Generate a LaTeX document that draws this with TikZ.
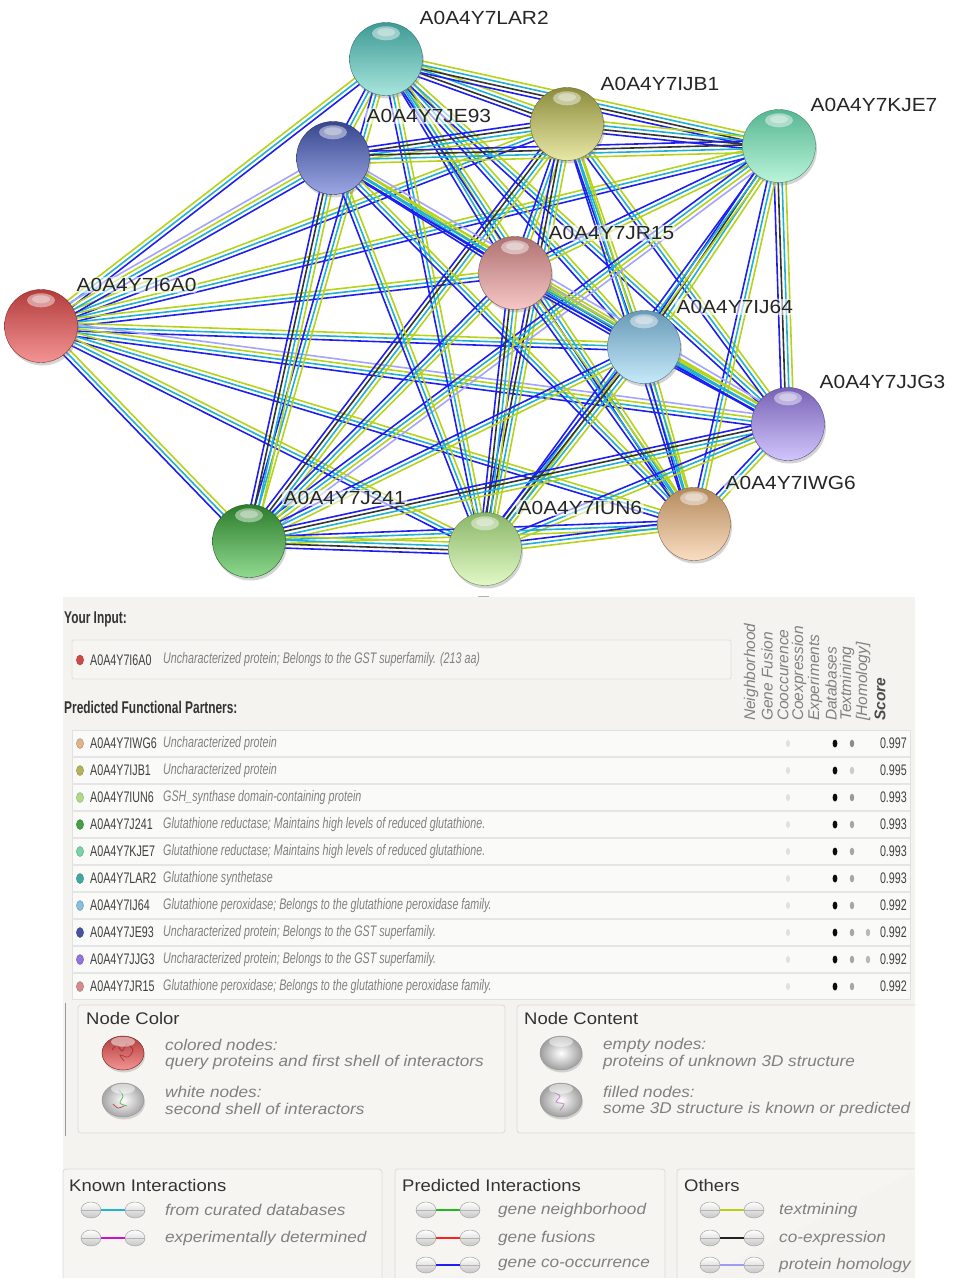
\documentclass[tikz,border=0pt]{standalone}
\usepackage{fontspec}
\setmainfont{Liberation Sans}
\newfontfamily\widef[FakeStretch=1.1]{Liberation Sans}
\newfontfamily\condf[FakeStretch=0.7]{Liberation Sans}
\usetikzlibrary{calc,shadows,backgrounds,shapes.geometric}

\definecolor{cB}{HTML}{1E1EF0}
\definecolor{cK}{HTML}{333333}
\definecolor{cC}{HTML}{1FB0D2}
\definecolor{cT}{HTML}{B7D21A}
\definecolor{cH}{HTML}{A4A4FA}
\definecolor{panel}{HTML}{F4F3EF}
\definecolor{panel2}{HTML}{F6F5F2}
% ball colours (top / bottom)
\definecolor{tI6A0}{HTML}{B23C3C}\definecolor{bI6A0}{HTML}{F49494}
\definecolor{tLAR2}{HTML}{3E9A94}\definecolor{bLAR2}{HTML}{A8E6DE}
\definecolor{tIJB1}{HTML}{8C8C3E}\definecolor{bIJB1}{HTML}{E8E8A6}
\definecolor{tKJE7}{HTML}{58B692}\definecolor{bKJE7}{HTML}{BAF4DA}
\definecolor{tJE93}{HTML}{38468E}\definecolor{bJE93}{HTML}{9CA8E4}
\definecolor{tJR15}{HTML}{AE7272}\definecolor{bJR15}{HTML}{F8C6C6}
\definecolor{tIJ64}{HTML}{6899B6}\definecolor{bIJ64}{HTML}{C6EAFA}
\definecolor{tJJG3}{HTML}{7862B6}\definecolor{bJJG3}{HTML}{D2C6FC}
\definecolor{tIWG6}{HTML}{B48A5E}\definecolor{bIWG6}{HTML}{FADEC2}
\definecolor{tJ241}{HTML}{2C7C2C}\definecolor{bJ241}{HTML}{90DA90}
\definecolor{tIUN6}{HTML}{8AB668}\definecolor{bIUN6}{HTML}{E2F9C6}
% table dot colours
\definecolor{dIWG6}{HTML}{E0B488}\definecolor{dIJB1}{HTML}{B4B458}
\definecolor{dIUN6}{HTML}{AEDC86}\definecolor{dJ241}{HTML}{44A044}
\definecolor{dKJE7}{HTML}{78D4A8}\definecolor{dLAR2}{HTML}{40A8A0}
\definecolor{dIJ64}{HTML}{86C0DC}\definecolor{dJE93}{HTML}{4452A2}
\definecolor{dJJG3}{HTML}{9274DA}\definecolor{dJR15}{HTML}{D48C8C}
\definecolor{dI6A0}{HTML}{D04848}
% legend line colours
\definecolor{lDb}{HTML}{1FB3D6}\definecolor{lEx}{HTML}{CC10CC}
\definecolor{lNb}{HTML}{22B822}\definecolor{lFu}{HTML}{FF2020}
\definecolor{lCo}{HTML}{2020EE}\definecolor{lTm}{HTML}{B5D015}
\definecolor{lCe}{HTML}{222222}\definecolor{lHo}{HTML}{9C9CF4}

\newcommand\bund[3]{%
  \def\nn{0}\foreach \c in {#3}{\xdef\nn{\the\numexpr\nn+1\relax}}%
  \foreach \c [count=\i] in {#3}{%
    \pgfmathsetmacro\off{(\i-(\nn+1)/2)*3.9}%
    \draw[\c] ($(#1)!\off pt!90:(#2)$) -- ($(#2)!\off pt!-90:(#1)$);
  }}
\newcommand\netball[5]{%
  \node[ball, top color=#4, bottom color=#5, draw=#4!75!black] (#1) at (#2,#3) {};
  \fill[white, opacity=.45] ([yshift=-11pt]#1.north) ellipse (14pt and 7pt);
  \fill[white, opacity=.35] ([yshift=-10pt]#1.north) ellipse (9pt and 4pt);
}
\newcommand\licon[4]{%
  \node[iball] (#1a) at (#2+10,#3) {};
  \node[iball] (#1b) at (#2+54,#3) {};
  \draw[black!30, line width=.5pt] (#1a.west) -- (#1a.east) (#1b.west) -- (#1b.east);
  \draw[#4, line width=2.6pt] (#1a.east) -- (#1b.west);
}

\begin{document}
\begin{tikzpicture}[x=1pt,y=-1pt,
  ball/.style={circle, minimum size=73pt, inner sep=0pt, line width=.4pt,
    drop shadow={opacity=.35, shadow xshift=1.5pt, shadow yshift=-3pt}},
  lbl/.style={anchor=west, inner sep=1.5pt, rounded corners=4pt, fill=white, fill opacity=.6, text opacity=1,
    font=\widef\fontsize{19}{19}\selectfont, text=black!85},
  tname/.style={anchor=west, inner sep=0pt, font=\condf\fontsize{15.3}{15.3}\selectfont, text=black!75},
  tdesc/.style={anchor=west, inner sep=0pt, font=\condf\itshape\fontsize{15.3}{15.3}\selectfont, text=black!50},
  thead/.style={anchor=west, rotate=90, inner sep=0pt, font=\itshape\fontsize{15.5}{15.5}\selectfont, text=black!50},
  ttitle/.style={anchor=west, inner sep=0pt, font=\condf\bfseries\fontsize{17}{17}\selectfont, text=black!80},
  ltitle/.style={anchor=west, inner sep=0pt, font=\widef\fontsize{16.8}{16.8}\selectfont, text=black!80},
  ltext/.style={anchor=west, inner sep=0pt, font=\widef\itshape\fontsize{15.6}{15.6}\selectfont, text=black!50},
  lbox/.style={draw=black!14, fill=panel2, rounded corners=3pt, line width=.8pt},
  lball/.style={ellipse, minimum width=42pt, minimum height=34pt, inner sep=0pt, line width=.5pt,
    drop shadow={opacity=.3, shadow xshift=1pt, shadow yshift=-2.5pt}},
  iball/.style={ellipse, minimum width=20pt, minimum height=16pt, inner sep=0pt, draw=black!35,
    line width=.5pt, top color=white, bottom color=black!22},
  edge/.style={line width=1.6pt},
]
\useasboundingbox (0,0) rectangle (971,1282);

% ---------------- network nodes
\netball{I6A0}{41}{326}{tI6A0}{bI6A0}
\netball{LAR2}{386}{59}{tLAR2}{bLAR2}
\netball{IJB1}{567}{124}{tIJB1}{bIJB1}
\netball{KJE7}{779}{146}{tKJE7}{bKJE7}
\netball{JE93}{333}{158}{tJE93}{bJE93}
\netball{JR15}{515}{273}{tJR15}{bJR15}
\netball{IJ64}{644}{347}{tIJ64}{bIJ64}
\netball{JJG3}{788}{424}{tJJG3}{bJJG3}
\netball{IWG6}{694}{524}{tIWG6}{bIWG6}
\netball{J241}{249}{541}{tJ241}{bJ241}
\netball{IUN6}{485}{549}{tIUN6}{bIUN6}

\node[lbl] (LAR2t) at (418,18) {A0A4Y7LAR2};
\node[lbl] (IJB1t) at (599,84) {A0A4Y7IJB1};
\node[lbl] (KJE7t) at (809,105) {A0A4Y7KJE7};
\node[lbl] (JE93t) at (365,116) {A0A4Y7JE93};
\node[lbl] (JR15t) at (547,233) {A0A4Y7JR15};
\node[lbl] (I6A0t) at (75,285) {A0A4Y7I6A0};
\node[lbl] (IJ64t) at (675,307) {A0A4Y7IJ64};
\node[lbl] (JJG3t) at (818,382) {A0A4Y7JJG3};
\node[lbl] (IWG6t) at (724,483) {A0A4Y7IWG6};
\node[lbl] (J241t) at (282,498) {A0A4Y7J241};
\node[lbl] (IUN6t) at (516,508) {A0A4Y7IUN6};

% ---------------- edges and panel background
\begin{scope}[on background layer]
\fill[panel] (63,597) rectangle (915,1278);
\begin{scope}[edge]
\bund{I6A0}{LAR2}{cB,cC,cT}
\bund{I6A0}{IJB1}{cB,cC,cT}
\bund{I6A0}{KJE7}{cB,cC,cT}
\bund{I6A0}{JE93}{cB,cC,cT,cH}
\bund{I6A0}{JR15}{cB,cC,cT}
\bund{I6A0}{IJ64}{cB,cC,cT}
\bund{I6A0}{JJG3}{cB,cC,cT,cH}
\bund{I6A0}{IWG6}{cB,cC,cT}
\bund{I6A0}{J241}{cB,cC,cT}
\bund{I6A0}{IUN6}{cB,cC,cT}
\bund{LAR2}{IJB1}{cB,cK,cC,cT}
\bund{LAR2}{KJE7}{cB,cK,cC,cT}
\bund{LAR2}{JE93}{cB,cC,cT}
\bund{LAR2}{JR15}{cB,cC,cT}
\bund{LAR2}{IJ64}{cB,cC,cT}
\bund{LAR2}{JJG3}{cB,cC,cT}
\bund{LAR2}{IWG6}{cB,cC,cT}
\bund{LAR2}{J241}{cB,cC,cT}
\bund{LAR2}{IUN6}{cB,cC,cT}
\bund{IJB1}{KJE7}{cB,cK,cC,cT}
\bund{IJB1}{JE93}{cB,cK,cC,cT}
\bund{IJB1}{JR15}{cB,cC,cT}
\bund{IJB1}{IJ64}{cB,cC,cT}
\bund{IJB1}{JJG3}{cB,cC,cT}
\bund{IJB1}{IWG6}{cB,cC,cT}
\bund{IJB1}{J241}{cB,cK,cC,cT}
\bund{IJB1}{IUN6}{cB,cK,cC,cT}
\bund{KJE7}{JE93}{cB,cK,cC,cT}
\bund{KJE7}{JR15}{cB,cC,cT}
\bund{KJE7}{IJ64}{cB,cK,cC,cT}
\bund{KJE7}{JJG3}{cB,cK,cC,cT}
\bund{KJE7}{IWG6}{cB,cC,cT}
\bund{KJE7}{J241}{cB,cC,cT,cH}
\bund{KJE7}{IUN6}{cB,cC,cT}
\bund{JE93}{JR15}{cB,cC,cT}
\bund{JE93}{IJ64}{cB,cC,cT}
\bund{JE93}{JJG3}{cB,cC,cT,cH}
\bund{JE93}{IWG6}{cB,cC,cT}
\bund{JE93}{J241}{cB,cK,cC,cT}
\bund{JE93}{IUN6}{cB,cC,cT}
\bund{JR15}{IJ64}{cB,cC,cT,cH}
\bund{JR15}{JJG3}{cB,cC,cT}
\bund{JR15}{IWG6}{cB,cC,cT}
\bund{JR15}{J241}{cB,cC,cT}
\bund{JR15}{IUN6}{cB,cK,cC,cT}
\bund{IJ64}{JJG3}{cB,cC,cT}
\bund{IJ64}{IWG6}{cB,cC,cT}
\bund{IJ64}{J241}{cB,cC,cT}
\bund{IJ64}{IUN6}{cB,cK,cC,cT}
\bund{JJG3}{IWG6}{cB,cC,cT}
\bund{JJG3}{J241}{cB,cK,cC,cT}
\bund{JJG3}{IUN6}{cB,cC,cT}
\bund{IWG6}{J241}{cB,cC,cT}
\bund{IWG6}{IUN6}{cB,cC,cT}
\bund{J241}{IUN6}{cB,cK,cC,cT}
\end{scope}
\end{scope}

\draw[black!30, line width=1pt] (478,596) -- (489,596);

% ---------------- table
\node[ttitle] (yin) at (64,619) {Your Input:};
\draw[draw=black!12, fill=panel2, rounded corners=2pt, line width=.8pt] (72,640) rectangle (731,679);
\fill[dI6A0, draw=dI6A0!70!black, line width=.3pt] (80,660) ellipse (3.6pt and 5pt);
\node[tname] (inname) at (90,660) {A0A4Y7I6A0};
\node[tdesc] (indesc) at (163,660) {Uncharacterized protein; Belongs to the GST superfamily. (213 aa)};
\node[ttitle] (pfp) at (64,707) {Predicted Functional Partners:};

\foreach \t/\x [count=\k] in {Neighborhood/751,Gene Fusion/767,Cooccurence/783,Coexpression/799,Experiments/815,Databases/831,Textmining/847,[Homology]/863}
  \node[thead] (h\k) at (\x,721) {\t};
\node[thead, font=\bfseries\itshape\fontsize{15.5}{15.5}\selectfont, text=black!70] (hs) at (880,721) {Score};

\draw[draw=black!12, fill=white!50!panel2, line width=.8pt] (72,730) rectangle (910,999);
\foreach \k in {1,...,9}
  \draw[black!10, line width=1.5pt] (72,730+27*\k) -- (910,730+27*\k);

\foreach \nm/\col/\desc/\sc/\tm/\hom [count=\i] in {
  A0A4Y7IWG6/dIWG6/{Uncharacterized protein}/0.997/45/0,
  A0A4Y7IJB1/dIJB1/{Uncharacterized protein}/0.995/20/0,
  A0A4Y7IUN6/dIUN6/{GSH\_synthase domain-containing protein}/0.993/40/0,
  A0A4Y7J241/dJ241/{Glutathione reductase; Maintains high levels of reduced glutathione.}/0.993/35/0,
  A0A4Y7KJE7/dKJE7/{Glutathione reductase; Maintains high levels of reduced glutathione.}/0.993/35/0,
  A0A4Y7LAR2/dLAR2/{Glutathione synthetase}/0.993/35/0,
  A0A4Y7IJ64/dIJ64/{Glutathione peroxidase; Belongs to the glutathione peroxidase family.}/0.992/35/0,
  A0A4Y7JE93/dJE93/{Uncharacterized protein; Belongs to the GST superfamily.}/0.992/35/1,
  A0A4Y7JJG3/dJJG3/{Uncharacterized protein; Belongs to the GST superfamily.}/0.992/35/1,
  A0A4Y7JR15/dJR15/{Glutathione peroxidase; Belongs to the glutathione peroxidase family.}/0.992/35/0}
{
  \pgfmathsetmacro\yy{743.5+27*(\i-1)}
  \fill[\col, draw=\col!70!black, line width=.3pt] (80,\yy) ellipse (3.6pt and 5pt);
  \node[tname] (rn\i) at (90,\yy) {\nm};
  \node[tdesc] (rd\i) at (163,\yy) {\desc};
  \fill[black!12] (788,\yy) ellipse (2pt and 3.5pt);
  \fill[black!95] (835,\yy) ellipse (2.4pt and 4pt);
  \fill[black!\tm] (852,\yy) ellipse (2.2pt and 3.8pt);
  \ifnum\hom=1 \fill[black!28] (868,\yy) ellipse (2.2pt and 3.8pt);\fi
  \node[tname, anchor=east] (rs\i) at (907,\yy) {\sc};
}

% ---------------- legend: node colour / content
\draw[black!40, line width=.8pt] (65,1003) -- (65,1136);
\draw[lbox] (78,1005) rectangle (505,1133);
\draw[draw=black!14, fill=panel2, line width=.8pt] (915,1005) -- (520,1005) [rounded corners=3pt] -- (517,1005) -- (517,1133) -- (915,1133);
\node[ltitle] (nc) at (86,1018) {Node Color};
\node[ltitle] (nct) at (524,1018) {Node Content};

\node[lball, top color=tI6A0, bottom color=bI6A0, draw=tI6A0!70!black] (lb1) at (123,1053) {};
\draw[red!45!black, opacity=.45, line width=.8pt] plot[smooth] coordinates {(112,1050) (117,1045) (122,1051) (127,1044) (133,1050) (128,1057) (120,1055) (124,1061)};
\fill[white, opacity=.5] ([yshift=-6pt]lb1.north) ellipse (12pt and 5pt);
\node[lball, shading=radial, inner color=white, outer color=black!35, draw=black!40] (lb2) at (123,1100) {};
\draw[green!60!black, opacity=.6, line width=.8pt] plot[smooth] coordinates {(119,1090) (123,1096) (120,1103) (127,1106)};
\draw[red!70!black, opacity=.6, line width=.8pt] plot[smooth] coordinates {(113,1104) (118,1108) (124,1106)};
\fill[white, opacity=.5] ([yshift=-6pt]lb2.north) ellipse (12pt and 5pt);
\node[lball, shading=radial, inner color=white, outer color=black!38, draw=black!40] (lb3) at (561,1053) {};
\fill[white, opacity=.5] ([yshift=-6pt]lb3.north) ellipse (12pt and 5pt);
\node[lball, shading=radial, inner color=white, outer color=black!38, draw=black!40] (lb4) at (561,1100) {};
\draw[violet!70, opacity=.55, line width=.9pt] plot[smooth] coordinates {(553,1092) (560,1096) (556,1102) (564,1104) (560,1110)};
\fill[white, opacity=.5] ([yshift=-6pt]lb4.north) ellipse (12pt and 5pt);

\node[ltext] (t1) at (165,1045) {colored nodes:};
\node[ltext] (t2) at (165,1062) {query proteins and first shell of interactors};
\node[ltext] (t3) at (165,1092) {white nodes:};
\node[ltext] (t4) at (165,1109) {second shell of interactors};
\node[ltext] (t5) at (603,1045) {empty nodes:};
\node[ltext] (t6) at (603,1062) {proteins of unknown 3D structure};
\node[ltext] (t7) at (603,1092) {filled nodes:};
\node[ltext] (t8) at (603,1109) {some 3D structure is known or predicted};

% ---------------- legend: interactions
\draw[lbox] (63,1290) -- (63,1169) -- (382,1169) -- (382,1290);
\draw[lbox] (395,1290) -- (395,1169) -- (665,1169) -- (665,1290);
\draw[lbox] (677,1290) -- (677,1169) -- (920,1169);
\fill[white] (0,1278) rectangle (971,1282);
\fill[white] (915,1160) rectangle (971,1282);
\node[ltitle] (ki) at (69,1185) {Known Interactions};
\node[ltitle] (pi) at (402,1185) {Predicted Interactions};
\node[ltitle] (ot) at (684,1185) {Others};

\licon{k1}{81}{1210}{lDb}
\licon{k2}{81}{1238}{lEx}
\licon{p1}{416}{1210}{lNb}
\licon{p2}{416}{1238}{lFu}
\licon{p3}{416}{1265}{lCo}
\licon{o1}{700}{1210}{lTm}
\licon{o2}{700}{1238}{lCe}
\licon{o3}{700}{1265}{lHo}

\node[ltext] (kt1) at (165,1210) {from curated databases};
\node[ltext] (kt2) at (165,1238) {experimentally determined};
\node[ltext] (pt1) at (498,1210) {gene neighborhood};
\node[ltext] (pt2) at (498,1238) {gene fusions};
\node[ltext] (pt3) at (498,1265) {gene co-occurrence};
\node[ltext] (ot1) at (779,1210) {textmining};
\node[ltext] (ot2) at (779,1238) {co-expression};
\node[ltext] (ot3) at (779,1265) {protein homology};
\end{tikzpicture}
\end{document}
